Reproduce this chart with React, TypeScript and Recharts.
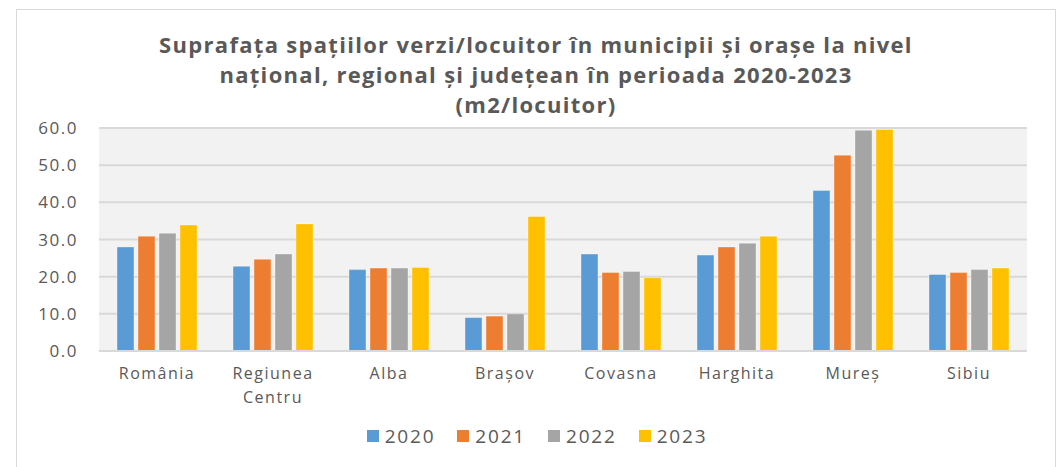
import { BarChart, Bar, XAxis, YAxis, CartesianGrid, Legend, Text } from 'recharts';

const CATEGORIES = ['România', 'Regiunea Centru', 'Alba', 'Brașov', 'Covasna', 'Harghita', 'Mureș', 'Sibiu'];
const Y2020 = [28.0, 22.8, 21.9, 9.0, 26.1, 25.8, 43.2, 20.6];
const Y2021 = [30.9, 24.7, 22.3, 9.4, 21.1, 28.0, 52.7, 21.1];
const Y2022 = [31.7, 26.1, 22.3, 10.0, 21.4, 29.0, 59.4, 21.9];
const Y2023 = [33.9, 34.2, 22.5, 36.2, 19.7, 30.9, 59.6, 22.3];
const Y_TICKS = [0, 10, 20, 30, 40, 50, 60];

const SERIES = [
  { key: 'y2020', name: '2020', color: '#5b9bd5' },
  { key: 'y2021', name: '2021', color: '#ed7d31' },
  { key: 'y2022', name: '2022', color: '#a5a5a5' },
  { key: 'y2023', name: '2023', color: '#ffc000' },
];

const TITLE_LINES = [
  'Suprafața spațiilor verzi/locuitor în municipii și orașe la nivel',
  'național, regional și județean în perioada 2020-2023',
  '(m2/locuitor)',
];

const TEXT_COLOR = '#595959';
const AXIS_FONT = '"Open Sans", "Noto Sans", sans-serif';

const chartData = CATEGORIES.map((name, i) => ({
  name,
  y2020: Y2020[i],
  y2021: Y2021[i],
  y2022: Y2022[i],
  y2023: Y2023[i],
}));

function CategoryTick({ x, y, payload }: any) {
  return (
    <Text
      x={x}
      y={y}
      width={100}
      textAnchor="middle"
      verticalAnchor="start"
      lineHeight={24}
      fill={TEXT_COLOR}
      fontSize={16}
      letterSpacing={1.5}
      fontFamily={AXIS_FONT}
    >
      {payload.value}
    </Text>
  );
}

function LegendContent({ payload }: any) {
  return (
    <div style={{ display: 'flex', justifyContent: 'center', gap: 22, fontFamily: AXIS_FONT, paddingLeft: 8 }}>
      {(payload || []).map((p: any) => (
        <div key={p.value} style={{ display: 'flex', alignItems: 'center', gap: 6 }}>
          <span style={{ width: 12, height: 12, background: p.color, display: 'inline-block' }} />
          <span style={{ fontSize: 19, letterSpacing: 1.8, color: TEXT_COLOR }}>{p.value}</span>
        </div>
      ))}
    </div>
  );
}

export default function App() {
  return (
    <div style={{ position: 'absolute', left: 0, top: 0, width: 1056, height: 467, background: '#fff', overflow: 'hidden' }}>
      <div
        style={{
          position: 'absolute',
          left: 16,
          top: 9,
          width: 1038,
          height: 470,
          border: '1px solid #d9d9d9',
        }}
      />
      <div
        style={{
          position: 'absolute',
          left: 16,
          top: 29,
          width: 1040,
          textAlign: 'center',
          fontFamily: AXIS_FONT,
          fontWeight: 700,
          fontSize: 22,
          letterSpacing: 1.3,
          lineHeight: '30px',
          color: TEXT_COLOR,
        }}
      >
        {TITLE_LINES.map((t) => (
          <div key={t}>{t}</div>
        ))}
      </div>
      <div style={{ position: 'absolute', left: 0, top: 0 }}>
        <BarChart
          width={1056}
          height={467}
          data={chartData}
          margin={{ top: 128, right: 29, bottom: 18, left: 39 }}
          barCategoryGap={18}
          barGap={4}
        >
          <CartesianGrid vertical={false} stroke="#d9d9d9" strokeWidth={2} fill="#f2f2f2" />
          <XAxis
            dataKey="name"
            axisLine={{ stroke: '#d9d9d9', strokeWidth: 2 }}
            tickLine={false}
            tickSize={0}
            tickMargin={17}
            interval={0}
            height={72}
            tick={<CategoryTick />}
          />
          <YAxis
            domain={[0, 60]}
            ticks={Y_TICKS}
            width={60}
            axisLine={false}
            tickLine={false}
            tickSize={0}
            tickMargin={21}
            tickFormatter={(v: number) => v.toFixed(1)}
            tick={{ fill: TEXT_COLOR, fontSize: 17, fontFamily: AXIS_FONT, letterSpacing: 1.5 }}
          />
          <Legend verticalAlign="bottom" content={<LegendContent />} />
          {SERIES.map((s) => (
            <Bar
              key={s.key}
              dataKey={s.key}
              name={s.name}
              fill={s.color}
              stroke="#ffffff"
              strokeOpacity={0.35}
              barSize={17}
              isAnimationActive={false}
            />
          ))}
        </BarChart>
      </div>
    </div>
  );
}
